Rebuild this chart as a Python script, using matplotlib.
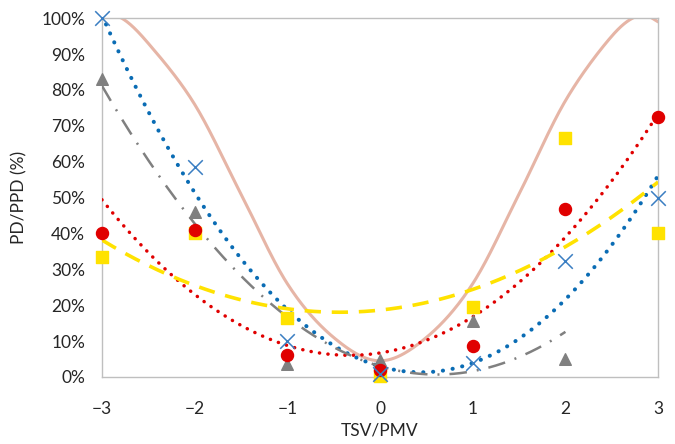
"""PD/PPD against TSV/PMV with quadratic trendlines and the PPD curve."""

import matplotlib

matplotlib.use("Agg")
import matplotlib.pyplot as plt
import numpy as np
from matplotlib.ticker import PercentFormatter

plt.rcParams["font.family"] = ["Lato", "DejaVu Sans"]

# %% Data
tsv = [-3, -2, -1, 0, 1, 2, 3]
pd_blue = [100, 58.5, 10, 0.8, 4, 32.3, 50]
pd_red = [40, 41, 6, 2, 8.7, 46.8, 72.5]
pd_yellow = [33.5, 40, 16.5, 0.4, 19.5, 66.5, 40]
tsv_gray = [-3, -2, -1, 0, 1, 2]
pd_gray = [83, 46, 3.6, 4.6, 15.6, 5]

pmv_curve = [-3, -2.8, -2.5, -2, -1.5, -1, -0.5, 0, 0.5, 1, 1.5, 2, 2.5, 2.8, 3]
ppd_curve = [100, 100.2, 93, 76, 51, 26, 11, 4.5, 11, 26, 51, 77, 95, 100.8, 99]


# %% Helpers
def _smooth(xs, ys, n=30):
    """Catmull-Rom style smoothing, like a spreadsheet 'smoothed line'."""
    p = np.column_stack([xs, ys]).astype(float)
    p = np.vstack([p[0], p, p[-1]])
    out = []
    for i in range(1, len(p) - 2):
        p0, p1, p2, p3 = p[i - 1], p[i], p[i + 1], p[i + 2]
        c1 = p1 + (p2 - p0) / 6
        c2 = p2 - (p3 - p1) / 6
        t = np.linspace(0, 1, n)[:, None]
        seg = ((1 - t) ** 3) * p1 + 3 * (1 - t) ** 2 * t * c1 + 3 * (1 - t) * t**2 * c2 + t**3 * p2
        out.append(seg)
    out = np.vstack(out)
    return out[:, 0], out[:, 1]


def _trend(x, y, order=2):
    coef = np.polyfit(x, y, order)
    xf = np.linspace(min(x), max(x), 200)
    return xf, np.polyval(coef, xf)


# %% Plot
fig = plt.figure(figsize=(6.75, 4.44), dpi=100)
ax = fig.add_axes([0.151, 0.151, 0.824, 0.808])

sx, sy = _smooth(pmv_curve, ppd_curve)
ax.plot(sx, np.array(sy) / 100, color="#E6B5A6", lw=2.2, zorder=2)

xf, yf = _trend(tsv, pd_blue)
ax.plot(xf, yf / 100, color="#0A6CB4", lw=2.9, linestyle=(0, (0.05, 2.4)),
        dash_capstyle="round", zorder=3)
xf, yf = _trend(tsv, pd_red)
ax.plot(xf, yf / 100, color="#E00000", lw=2.5, linestyle=(0, (0.05, 2.4)),
        dash_capstyle="round", zorder=3)
xf, yf = _trend(tsv, pd_yellow)
ax.plot(xf, yf / 100, color="#FFE200", lw=2.6, linestyle=(0, (4.5, 3)), zorder=3)
xf, yf = _trend(tsv_gray, pd_gray)
ax.plot(xf, yf / 100, color="#808080", lw=1.8, linestyle=(0, (7, 4, 0.8, 4)), zorder=3)

ax.scatter(tsv, np.array(pd_yellow) / 100, marker="s", s=85, color="#FFE200",
           zorder=4, clip_on=False)
ax.scatter(tsv_gray, np.array(pd_gray) / 100, marker="^", s=70, color="#808080",
           zorder=5, clip_on=False)
ax.scatter(tsv, np.array(pd_red) / 100, marker="o", s=75, color="#E00000",
           zorder=6, clip_on=False)
ax.scatter(tsv, np.array(pd_blue) / 100, marker="x", s=110, color="#3A7EC2",
           linewidths=1.1, zorder=7, clip_on=False)

ax.set_xlim(-3, 3)
ax.set_ylim(0, 1)
ax.set_xticks(range(-3, 4))
ax.set_yticks(np.arange(0, 1.01, 0.1))
ax.yaxis.set_major_formatter(PercentFormatter(1.0, decimals=0))
ax.tick_params(length=0, labelsize=12.5, colors="#262626")
ax.tick_params(axis="y", pad=12)
ax.tick_params(axis="x", pad=17)
for s in ax.spines.values():
    s.set_color("#BFBFBF")
    s.set_linewidth(1)

ax.set_xlabel("TSV/PMV", fontsize=12.5, color="#262626", labelpad=4)
ax.set_ylabel("PD/PPD (%)", fontsize=12.5, color="#262626", labelpad=10)

fig.savefig("out.png", dpi=100)
